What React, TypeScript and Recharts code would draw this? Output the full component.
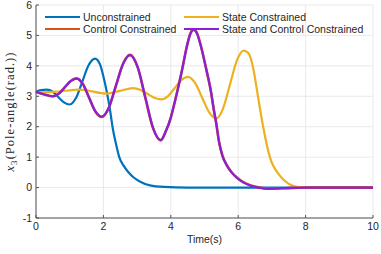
import React from 'react';
import { LineChart, Line, XAxis, YAxis, CartesianGrid, Label } from 'recharts';

// tick labels
const timeTicks = [0, 2, 4, 6, 8, 10];
const angleTicks = [-1, 0, 1, 2, 3, 4, 5, 6];

// Unconstrained
const unconstrainedTime = [0, 0.15, 0.32, 0.5, 0.66, 0.83, 1.0, 1.19, 1.375, 1.56, 1.75, 1.9, 2.0, 2.1, 2.19, 2.27, 2.37, 2.47, 2.6, 2.73, 2.9, 3.08, 3.38, 3.8, 4.5, 10];
const unconstrainedAngle = [3.15, 3.2, 3.22, 3.15, 2.975, 2.8, 2.73, 2.95, 3.485, 4.02, 4.24, 4.05, 3.65, 3.15, 2.6, 2.0, 1.45, 1.0, 0.72, 0.52, 0.33, 0.2, 0.07, 0.02, 0, 0];

// State Constrained
const stateTime = [0, 0.6, 1.3, 2.1, 2.49, 2.88, 3.09, 3.3, 3.51, 3.72, 3.92, 4.115, 4.31, 4.51, 4.72, 4.93, 5.14, 5.35, 5.55, 5.755, 5.96, 6.16, 6.3, 6.45, 6.58, 6.74, 6.94, 7.23, 7.5, 7.83, 8.3, 10];
const stateAngle = [3.12, 3.15, 3.22, 3.09, 3.18, 3.27, 3.216, 3.085, 2.954, 2.9, 3.008, 3.27, 3.53, 3.64, 3.44, 2.955, 2.47, 2.27, 2.596, 3.385, 4.174, 4.5, 4.42, 3.9, 3.04, 2.0, 1.0, 0.4, 0.12, 0.01, 0, 0];

// Control Constrained / State and Control Constrained (nearly on top of each other)
const bothTime = [0, 0.25, 0.5, 0.675, 0.85, 1.025, 1.2, 1.39, 1.575, 1.76, 1.95, 2.16, 2.37, 2.58, 2.79, 3.02, 3.245, 3.47, 3.7, 3.85, 4.0, 4.07, 4.18, 4.34, 4.48, 4.58, 4.68, 4.78, 4.88, 5.05, 5.2, 5.27, 5.35, 5.43, 5.53, 5.65, 5.8, 5.95, 6.15, 6.35, 6.6, 6.9, 7.4, 8, 10];
const controlAngle = [3.15, 3.06, 3.0, 3.085, 3.29, 3.495, 3.59, 3.41, 2.955, 2.5, 2.32, 2.62, 3.34, 4.06, 4.36, 3.95, 2.95, 1.96, 1.55, 1.84, 2.3, 2.6, 3.1, 3.9, 4.66, 5.06, 5.2, 5.07, 4.71, 3.9, 3.1, 2.6, 2.1, 1.52, 1.06, 0.76, 0.51, 0.34, 0.18, 0.08, 0.01, -0.03, -0.02, 0, 0];
const bothAngle = [3.15, 3.06, 3.0, 3.085, 3.29, 3.495, 3.58, 3.4, 2.955, 2.51, 2.33, 2.625, 3.34, 4.055, 4.35, 3.94, 2.955, 1.97, 1.56, 1.85, 2.3, 2.6, 3.1, 3.9, 4.65, 5.05, 5.18, 5.05, 4.7, 3.9, 3.1, 2.6, 2.1, 1.5, 1.05, 0.75, 0.5, 0.33, 0.17, 0.07, 0.0, -0.04, -0.02, 0, 0];

const toPoints = (time: number[], angle: number[]) => time.map((t, i) => ({ t, angle: angle[i] }));

const series = [
  { name: 'Unconstrained', color: '#0072BD', data: toPoints(unconstrainedTime, unconstrainedAngle) },
  { name: 'State Constrained', color: '#EDB120', data: toPoints(stateTime, stateAngle) },
  { name: 'Control Constrained', color: '#D95319', data: toPoints(bothTime, controlAngle) },
  { name: 'State and Control Constrained', color: '#8A1FD9', data: toPoints(bothTime, bothAngle) },
];

const legendRows = [
  [series[0], series[1]],
  [series[2], series[3]],
];

const textColor = '#262626';
const axisColor = '#555';
const sans = '"Liberation Sans", Arial, Helvetica, sans-serif';

function YTitle() {
  return (
    <text
      x={0}
      y={0}
      transform="translate(14, 112) rotate(-90)"
      textAnchor="middle"
      fill={textColor}
      fontFamily='"Liberation Serif", "Times New Roman", serif'
      fontSize={12.5}
      textLength={119}
      lengthAdjust="spacing"
    >
      <tspan fontStyle="italic">x</tspan>
      <tspan fontSize={9} dy={2.5}>3</tspan>
      <tspan dy={-2.5}>(Pole-angle(rad.))</tspan>
    </text>
  );
}

export default function App() {
  return (
    <div style={{ position: 'absolute', left: 0, top: 0, width: 381, height: 254, background: '#fff' }}>
      <LineChart width={381} height={254} margin={{ top: 5, right: 8, left: 0, bottom: 0 }}>
        <CartesianGrid stroke="#e3e3e3" strokeWidth={0.8} />
        <XAxis
          dataKey="t"
          type="number"
          domain={[0, 10]}
          ticks={timeTicks}
          height={36}
          allowDuplicatedCategory={false}
          stroke={axisColor}
          tickSize={-3}
          tickMargin={8}
          tick={{ fill: textColor, fontSize: 10.5, fontFamily: sans }}
        >
          <Label value="Time(s)" position="insideBottom" offset={11} fill={textColor} fontSize={10.5} fontFamily={sans} />
        </XAxis>
        <XAxis xAxisId="top" orientation="top" type="number" domain={[0, 10]} ticks={timeTicks} height={0} stroke={axisColor} tickSize={-3} tick={false} />
        <YAxis
          type="number"
          domain={[-1, 6]}
          ticks={angleTicks}
          width={36}
          stroke={axisColor}
          tickSize={-3}
          tickMargin={7}
          tick={{ fill: textColor, fontSize: 10.5, fontFamily: sans }}
        >
          <Label content={() => <YTitle />} />
        </YAxis>
        <YAxis yAxisId="right" orientation="right" type="number" domain={[-1, 6]} ticks={angleTicks} width={0} stroke={axisColor} tickSize={-3} tick={false} />
        {series.map(s => (
          <Line
            key={s.name}
            data={s.data}
            dataKey="angle"
            type="monotone"
            stroke={s.color}
            strokeWidth={s.name === 'Control Constrained' ? 2.6 : 2.2}
            dot={false}
            isAnimationActive={false}
          />
        ))}
      </LineChart>
      {legendRows.map((row, r) =>
        row.map((s, c) => (
          <div
            key={s.name}
            style={{
              position: 'absolute',
              left: c === 0 ? 45 : 184,
              top: 11 + r * 12.3,
              display: 'flex',
              alignItems: 'center',
              height: 12,
              fontFamily: sans,
              fontSize: 10.5,
              color: textColor,
              whiteSpace: 'nowrap',
            }}
          >
            <span style={{ display: 'inline-block', width: 35, height: 2.2, background: s.color, marginRight: 3 }} />
            {s.name}
          </div>
        ))
      )}
    </div>
  );
}
